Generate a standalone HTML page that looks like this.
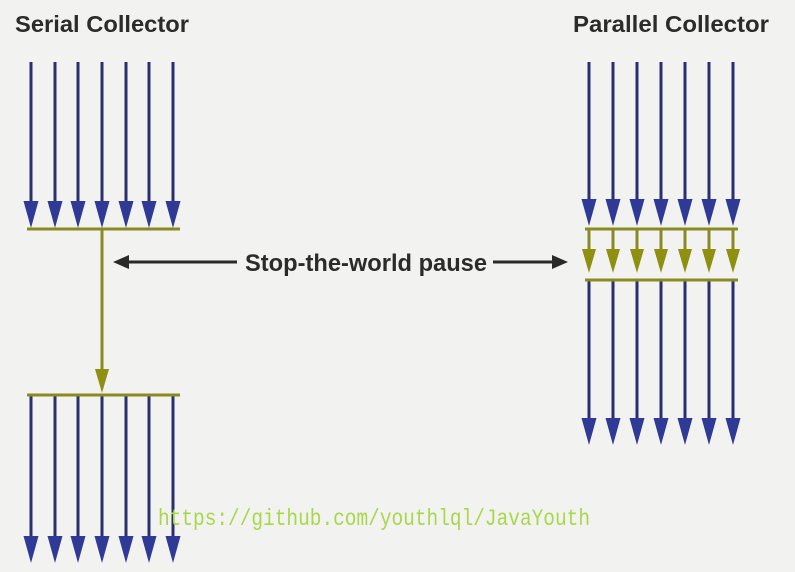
<!DOCTYPE html>
<html><head><meta charset="utf-8"><style>
html,body{margin:0;padding:0;background:#f2f2f1;}
svg{display:block;}
</style></head><body>
<svg width="795" height="572" viewBox="0 0 795 572" xmlns="http://www.w3.org/2000/svg">
<defs>
<polygon id="bh" points="-7.5,-27 7.5,-27 0,0" fill="#2f3a96"/>
<polygon id="oh" points="-7,-24 7,-24 0,0" fill="#8f8f12"/>
</defs>
<rect width="795" height="572" fill="#f2f2f1"/>
<text x="15" y="32" font-family="Liberation Sans, sans-serif" font-weight="bold" font-size="23" fill="#2b2b2b" textLength="174" lengthAdjust="spacingAndGlyphs">Serial Collector</text>
<text x="573" y="32" font-family="Liberation Sans, sans-serif" font-weight="bold" font-size="23" fill="#2b2b2b" textLength="196" lengthAdjust="spacingAndGlyphs">Parallel Collector</text>

<g stroke="#2b2f6e" stroke-width="3">
<line x1="31" y1="62" x2="31" y2="205"/><line x1="55" y1="62" x2="55" y2="205"/><line x1="78" y1="62" x2="78" y2="205"/><line x1="102" y1="62" x2="102" y2="205"/><line x1="126" y1="62" x2="126" y2="205"/><line x1="149" y1="62" x2="149" y2="205"/><line x1="173" y1="62" x2="173" y2="205"/>
<line x1="31" y1="395" x2="31" y2="540"/><line x1="55" y1="395" x2="55" y2="540"/><line x1="78" y1="395" x2="78" y2="540"/><line x1="102" y1="395" x2="102" y2="540"/><line x1="126" y1="395" x2="126" y2="540"/><line x1="149" y1="395" x2="149" y2="540"/><line x1="173" y1="395" x2="173" y2="540"/>
<line x1="589" y1="62" x2="589" y2="203"/><line x1="613" y1="62" x2="613" y2="203"/><line x1="637" y1="62" x2="637" y2="203"/><line x1="661" y1="62" x2="661" y2="203"/><line x1="685" y1="62" x2="685" y2="203"/><line x1="709" y1="62" x2="709" y2="203"/><line x1="733" y1="62" x2="733" y2="203"/>
<line x1="589" y1="280" x2="589" y2="422"/><line x1="613" y1="280" x2="613" y2="422"/><line x1="637" y1="280" x2="637" y2="422"/><line x1="661" y1="280" x2="661" y2="422"/><line x1="685" y1="280" x2="685" y2="422"/><line x1="709" y1="280" x2="709" y2="422"/><line x1="733" y1="280" x2="733" y2="422"/>
</g>
<g>
<use href="#bh" x="31" y="228"/><use href="#bh" x="55" y="228"/><use href="#bh" x="78" y="228"/><use href="#bh" x="102" y="228"/><use href="#bh" x="126" y="228"/><use href="#bh" x="149" y="228"/><use href="#bh" x="173" y="228"/>
<use href="#bh" x="31" y="563"/><use href="#bh" x="55" y="563"/><use href="#bh" x="78" y="563"/><use href="#bh" x="102" y="563"/><use href="#bh" x="126" y="563"/><use href="#bh" x="149" y="563"/><use href="#bh" x="173" y="563"/>
<use href="#bh" x="589" y="226"/><use href="#bh" x="613" y="226"/><use href="#bh" x="637" y="226"/><use href="#bh" x="661" y="226"/><use href="#bh" x="685" y="226"/><use href="#bh" x="709" y="226"/><use href="#bh" x="733" y="226"/>
<use href="#bh" x="589" y="445"/><use href="#bh" x="613" y="445"/><use href="#bh" x="637" y="445"/><use href="#bh" x="661" y="445"/><use href="#bh" x="685" y="445"/><use href="#bh" x="709" y="445"/><use href="#bh" x="733" y="445"/>
</g>
<g stroke="#8a8a22" stroke-width="3">
<line x1="27" y1="229" x2="180" y2="229"/>
<line x1="102" y1="229" x2="102" y2="372"/>
<line x1="27" y1="395" x2="180" y2="395"/>
<line x1="585" y1="229" x2="738" y2="229"/>
<line x1="585" y1="280" x2="738" y2="280"/>
<line x1="589" y1="229" x2="589" y2="252"/><line x1="613" y1="229" x2="613" y2="252"/><line x1="637" y1="229" x2="637" y2="252"/><line x1="661" y1="229" x2="661" y2="252"/><line x1="685" y1="229" x2="685" y2="252"/><line x1="709" y1="229" x2="709" y2="252"/><line x1="733" y1="229" x2="733" y2="252"/>
</g>
<use href="#oh" x="102" y="393"/>
<use href="#oh" x="589" y="273"/><use href="#oh" x="613" y="273"/><use href="#oh" x="637" y="273"/><use href="#oh" x="661" y="273"/><use href="#oh" x="685" y="273"/><use href="#oh" x="709" y="273"/><use href="#oh" x="733" y="273"/>

<g stroke="#2a2a2a" stroke-width="3">
<line x1="125" y1="262" x2="237" y2="262"/>
<line x1="493" y1="262" x2="556" y2="262"/>
</g>
<polygon points="113,262 129,255 129,269" fill="#2a2a2a"/>
<polygon points="568,262 552,255 552,269" fill="#2a2a2a"/>
<text x="245" y="271" font-family="Liberation Sans, sans-serif" font-weight="bold" font-size="24" fill="#2b2b2b" textLength="242" lengthAdjust="spacingAndGlyphs">Stop-the-world pause</text>

<text x="158" y="525" font-family="Liberation Mono, monospace" font-size="23" fill="#a8d84a" textLength="432" lengthAdjust="spacingAndGlyphs">https://github.com/youthlql/JavaYouth</text>
</svg>
</body></html>
